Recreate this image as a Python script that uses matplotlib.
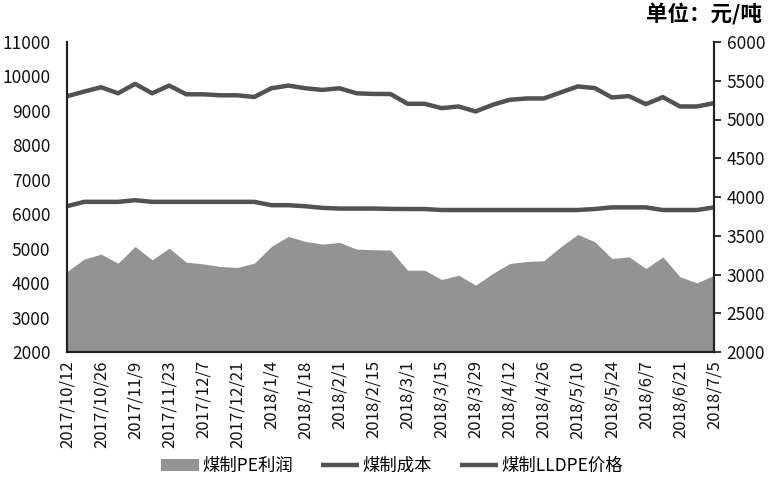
import matplotlib
matplotlib.use("Agg")
import matplotlib.pyplot as plt
import pandas as pd

plt.rcParams['font.family'] = ['Noto Sans CJK SC', 'DejaVu Sans']

dates = pd.date_range("2017-10-12", "2018-07-05", freq="7D")
tick_labels = ["2017/10/12", "2017/10/26", "2017/11/9", "2017/11/23", "2017/12/7", "2017/12/21",
               "2018/1/4", "2018/1/18", "2018/2/1", "2018/2/15", "2018/3/1", "2018/3/15",
               "2018/3/29", "2018/4/12", "2018/4/26", "2018/5/10", "2018/5/24", "2018/6/7",
               "2018/6/21", "2018/7/5"]

# PE profit (right axis)
profit = [3038, 3198, 3263, 3146, 3362, 3189, 3340, 3159, 3137, 3103, 3090, 3146, 3362, 3492,
          3427, 3392, 3414, 3328, 3319, 3315, 3056, 3056, 2935, 2991, 2862, 3013, 3142, 3168,
          3177, 3358, 3517, 3422, 3207, 3228, 3078, 3228, 2970, 2892, 2991]
# coal-based cost (left axis)
cost = [6232, 6359, 6359, 6359, 6407, 6359, 6359, 6359, 6359, 6359, 6359, 6359, 6262, 6262,
        6232, 6184, 6164, 6164, 6164, 6155, 6151, 6151, 6122, 6122, 6122, 6122, 6122, 6122,
        6122, 6122, 6122, 6151, 6199, 6199, 6199, 6122, 6122, 6122, 6199]
# coal-based LLDPE price (left axis)
lldpe = [9424, 9560, 9686, 9511, 9784, 9511, 9735, 9482, 9482, 9453, 9453, 9404, 9657, 9735,
         9657, 9609, 9657, 9511, 9492, 9490, 9206, 9206, 9080, 9128, 8983, 9177, 9322, 9361,
         9361, 9536, 9710, 9662, 9390, 9429, 9196, 9400, 9128, 9128, 9225]

x = list(range(len(dates)))

fig = plt.figure(figsize=(7.84, 4.84), dpi=100)
ax = fig.add_axes([67/784, 1-352/484, (714-67)/784, (352-42)/484])
ax2 = ax.twinx()

area_c = '#939393'
line_c = '#525252'

ax2.fill_between(x, 2000, profit, color=area_c, lw=0, label='煤制PE利润')
ax2.set_ylim(2000, 6000)
ax2.set_yticks(range(2000, 6001, 500))

ax.set_zorder(ax2.get_zorder() + 1)
ax.patch.set_visible(False)
ax.plot(x, cost, color=line_c, lw=3.2, label='煤制成本', solid_capstyle='butt')
ax.plot(x, lldpe, color=line_c, lw=3.2, label='煤制LLDPE价格', solid_capstyle='butt')
ax.set_ylim(2000, 11000)
ax.set_yticks(range(2000, 11001, 1000))
ax.set_xlim(0, len(x) - 1)
ax.set_xticks(x[::2])
ax.set_xticklabels(tick_labels, rotation=90)

for a in (ax, ax2):
    a.spines['top'].set_visible(False)
    for s in ('left', 'right', 'bottom'):
        a.spines[s].set_color('#222222')
        a.spines[s].set_linewidth(1.5)
ax.tick_params(axis='y', length=0, labelsize=12.5, pad=12, colors='#111111')
ax.tick_params(axis='x', length=0, labelsize=12, pad=6, colors='#111111')
ax2.tick_params(axis='y', length=5, width=1.2, labelsize=12.5, pad=4, colors='#111111')
for lab in ax.get_xticklabels() + ax.get_yticklabels() + ax2.get_yticklabels():
    lab.set_fontweight('medium')

h1, l1 = ax2.get_legend_handles_labels()
h2, l2 = ax.get_legend_handles_labels()
fig.legend(h1 + h2, l1 + l2, loc='center', bbox_to_anchor=(0.5, 1-466/484), ncol=3,
           frameon=False, prop={'size': 12.5, 'weight': 'medium'}, handlelength=2.2,
           handletextpad=0.2, columnspacing=1.6)

fig.text(0.972, 1-14/484, '单位：元/吨', ha='right', va='center', fontsize=15.5, fontweight='bold')

fig.savefig('out.png', dpi=100)
